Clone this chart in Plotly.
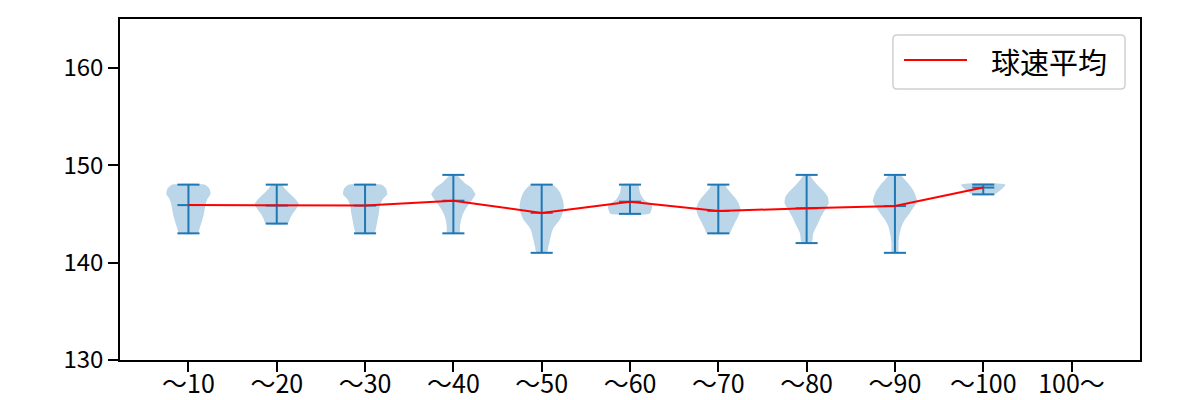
import plotly.graph_objects as go

categories = ["〜10", "〜20", "〜30", "〜40", "〜50", "〜60", "〜70", "〜80", "〜90", "〜100", "100〜"]
positions = [1, 2, 3, 4, 5, 6, 7, 8, 9, 10, 11]
means = [145.9, 145.85, 145.85, 146.35, 145.1, 146.25, 145.3, 145.57, 145.8, 147.7]
mins = [143, 144, 143, 143, 141, 145, 143, 142, 141, 147]
maxs = [148, 148, 148, 149, 148, 148, 148, 149, 149, 148]

# violin outline: speed levels (top -> bottom) and relative half-widths
profile_levels = [
    [148, 147.6, 147.0, 146.5, 145.9, 145.0, 144.4, 143.6, 143.0],
    [148, 147.5, 147.0, 146.5, 146.0, 145.5, 145.0, 144.5, 144.0],
    [148, 147.6, 147.0, 146.5, 145.9, 145.0, 144.4, 143.6, 143.0],
    [149, 148.6, 148.2, 147.7, 147.0, 146.6, 146.2, 145.5, 144.9, 144.4, 143.7, 143.0],
    [148, 147.6, 147.2, 146.5, 145.8, 145.1, 144.4, 143.9, 143.4, 142.4, 141.6, 141.0],
    [148, 147.5, 147.0, 146.5, 146.1, 145.8, 145.4, 145.0],
    [148, 147.6, 147.2, 146.6, 146.1, 145.5, 145.0, 144.5, 144.1, 143.5, 143.0],
    [149, 148.6, 148.2, 147.6, 147.2, 146.8, 146.1, 145.6, 145.1, 144.6, 144.1, 143.5, 143.0, 142.0],
    [149, 148.5, 147.9, 147.2, 146.3, 145.7, 145.1, 144.4, 143.7, 142.8, 142.0, 141.0],
    [148, 147],
]
profile_widths = [
    [0.75, 0.95, 1.00, 0.85, 0.77, 0.70, 0.63, 0.52, 0.42],
    [0.22, 0.40, 0.62, 0.85, 1.00, 0.88, 0.72, 0.60, 0.50],
    [0.75, 0.95, 1.00, 0.80, 0.68, 0.62, 0.57, 0.50, 0.42],
    [0.15, 0.32, 0.50, 0.80, 1.00, 0.90, 0.77, 0.55, 0.42, 0.35, 0.30, 0.28],
    [0.50, 0.70, 0.83, 0.95, 1.00, 0.95, 0.82, 0.65, 0.50, 0.38, 0.30, 0.23],
    [0.38, 0.42, 0.48, 0.62, 0.85, 1.00, 0.97, 0.88],
    [0.30, 0.40, 0.55, 0.78, 0.92, 1.00, 0.95, 0.85, 0.75, 0.62, 0.52],
    [0.15, 0.25, 0.40, 0.65, 0.82, 0.95, 1.00, 0.88, 0.75, 0.63, 0.53, 0.40, 0.30, 0.22],
    [0.25, 0.45, 0.68, 0.88, 1.00, 0.85, 0.68, 0.45, 0.30, 0.20, 0.16, 0.14],
    [1.00, 0.50],
]

HALF = 0.25   # max half-width of a violin (x units)
CAP = 0.125   # half-length of cap lines
BLUE = "#1f77b4"

fig = go.Figure()

# violin bodies
for i, (lv, wd) in enumerate(zip(profile_levels, profile_widths)):
    p = positions[i]
    xs = [p + HALF * w for w in wd] + [p - HALF * w for w in reversed(wd)] + [p + HALF * wd[0]]
    ys = list(lv) + list(reversed(lv)) + [lv[0]]
    fig.add_trace(go.Scatter(
        x=xs, y=ys, mode="lines", fill="toself",
        fillcolor="rgba(31,119,180,0.3)", line=dict(width=0, shape="spline", smoothing=0.6),
        hoverinfo="skip", showlegend=False))

# stems and caps
lx, ly = [], []
for i in range(len(mins)):
    p = positions[i]
    lx += [p, p, None]
    ly += [mins[i], maxs[i], None]
    for v in (mins[i], maxs[i], means[i]):
        lx += [p - CAP, p + CAP, None]
        ly += [v, v, None]
fig.add_trace(go.Scatter(x=lx, y=ly, mode="lines", line=dict(color=BLUE, width=2),
                         hoverinfo="skip", showlegend=False))

# mean line
fig.add_trace(go.Scatter(x=positions[:len(means)], y=means, mode="lines",
                         line=dict(color="red", width=2), name="球速平均", showlegend=False))

FONT = "Noto Sans CJK JP"

# manual legend (matplotlib style)
x0, x1, y0, y1 = 0.7578, 0.9853, 0.7947, 0.9531
rx, ry = 4 / 1020, 4 / 341
path = (f"M {x0+rx},{y0} L {x1-rx},{y0} Q {x1},{y0} {x1},{y0+ry} L {x1},{y1-ry} "
        f"Q {x1},{y1} {x1-rx},{y1} L {x0+rx},{y1} Q {x0},{y1} {x0},{y1-ry} "
        f"L {x0},{y0+ry} Q {x0},{y0} {x0+rx},{y0} Z")
fig.add_shape(type="path", path=path, xref="paper", yref="paper",
              line=dict(color="#d0d0d0", width=1.5), fillcolor="rgba(255,255,255,0.8)")
fig.add_shape(type="line", xref="paper", yref="paper", x0=0.7686, x1=0.8304, y0=0.8798, y1=0.8798,
              line=dict(color="red", width=2))
fig.add_annotation(text="球速平均", xref="paper", yref="paper", x=0.8520, y=0.8768,
                   xanchor="left", yanchor="middle", showarrow=False,
                   font=dict(family=FONT, size=29, color="black"))

fig.update_layout(
    width=1200, height=400,
    margin=dict(l=120, r=60, t=19, b=40),
    plot_bgcolor="white", paper_bgcolor="white",
    font=dict(family=FONT, size=24, color="black"),
    showlegend=False,
)
fig.update_xaxes(range=[0.225, 11.775], tickmode="array", tickvals=positions, ticktext=categories,
                 showgrid=False, zeroline=False, showline=True, linecolor="black", linewidth=1.5,
                 mirror=True, ticks="outside", ticklen=10, tickwidth=1.5, tickcolor="black",
                 tickfont=dict(family=FONT, size=25), automargin=False, ticklabelstandoff=-9)
fig.update_yaxes(range=[130, 165], tickmode="array", tickvals=[130, 140, 150, 160],
                 showgrid=False, zeroline=False, showline=True, linecolor="black", linewidth=1.5,
                 mirror=True, ticks="outside", ticklen=10, tickwidth=1.5, tickcolor="black",
                 tickfont=dict(family=FONT, size=24), automargin=False)

fig.write_html("out.html")
